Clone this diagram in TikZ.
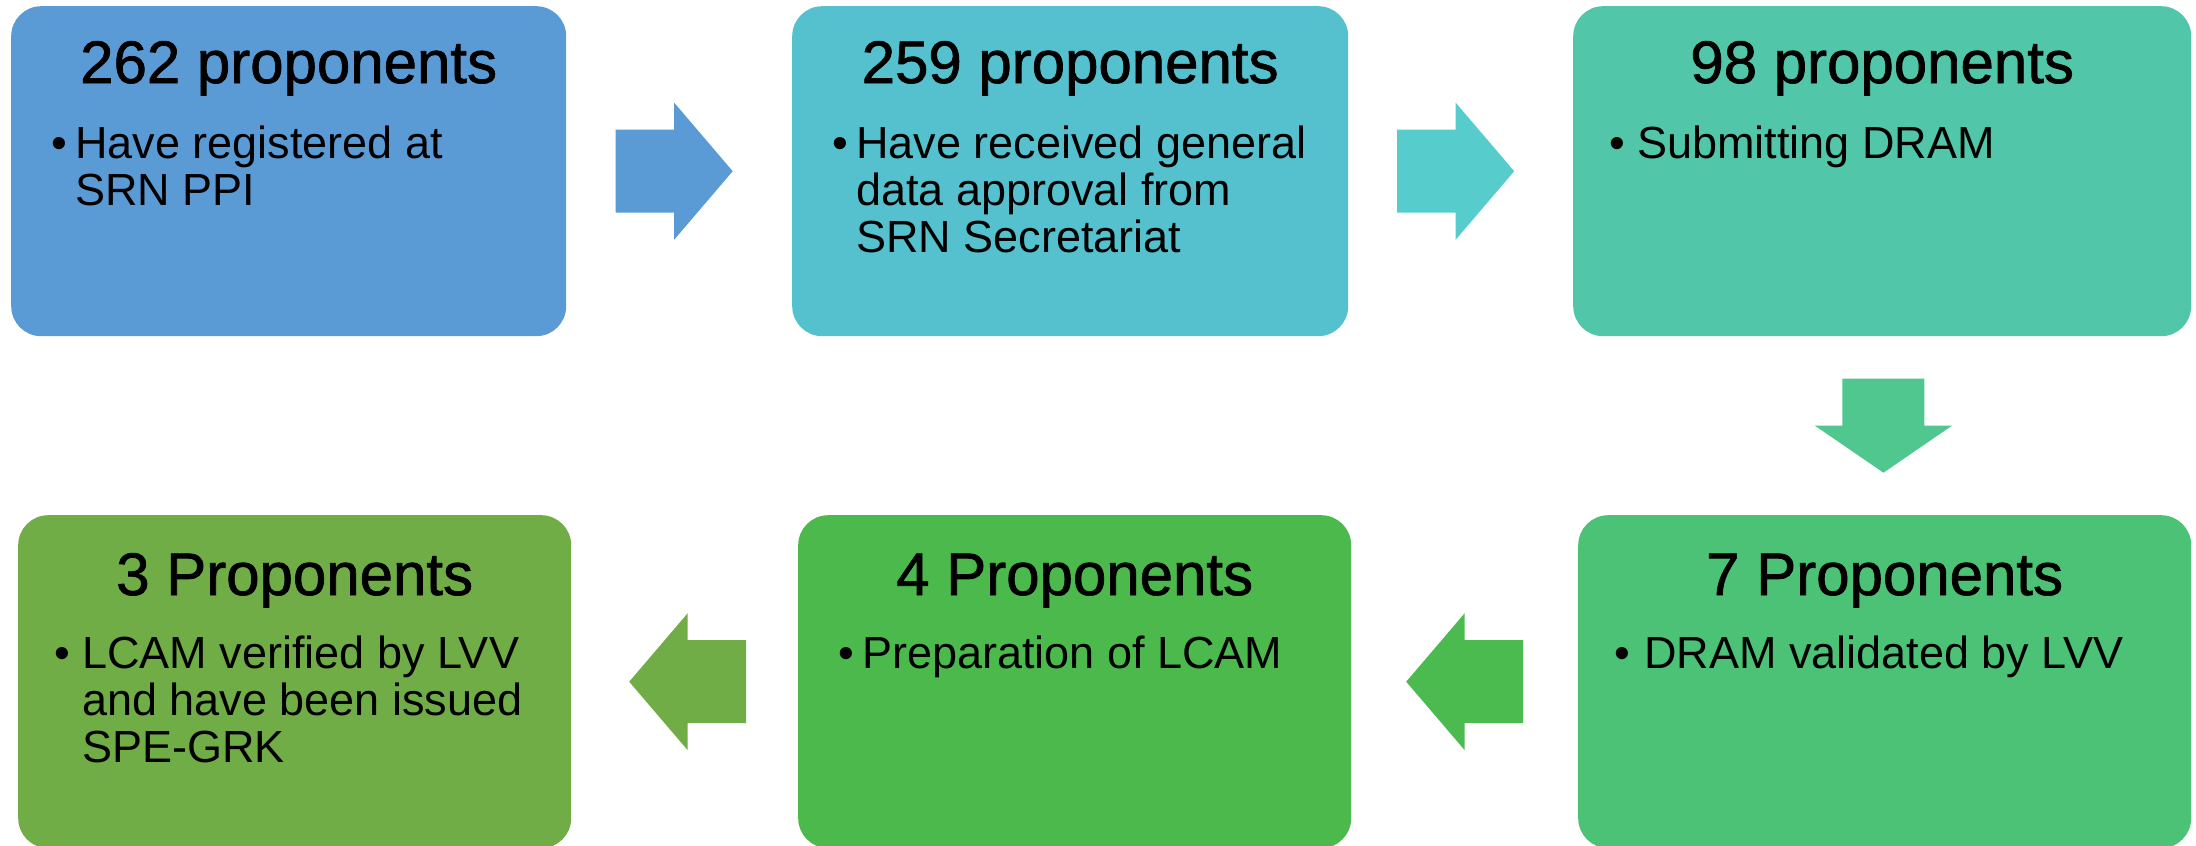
\documentclass[tikz,border=0pt]{standalone}
\usepackage{fontspec}
\setmainfont{Liberation Sans}
\newfontfamily\titlefont[FakeBold=1.2]{Liberation Sans}
\usetikzlibrary{calc}
\definecolor{cA}{HTML}{5B9BD5}
\definecolor{cB}{HTML}{55C1CE}
\definecolor{aB}{HTML}{56CDCC}
\definecolor{cC}{HTML}{51C6A8}
\definecolor{aC}{HTML}{4FC78E}
\definecolor{cD}{HTML}{4CC276}
\definecolor{aD}{HTML}{4BBB50}
\definecolor{cE}{HTML}{4BB94B}
\definecolor{cF}{HTML}{70AD47}
\newcommand{\bodylines}[1]{\begin{tabular}[t]{@{}l@{}}#1\end{tabular}}
\tikzset{
  box/.style={rectangle, rounded corners=30pt, inner sep=0pt, anchor=north west},
  ttl/.style={anchor=base, inner sep=0pt, font=\titlefont\fontsize{60}{66}\selectfont},
  bul/.style={anchor=base west, inner sep=0pt, font=\fontsize{45}{47}\selectfont},
  bodytxt/.style={anchor=base west, inner sep=0pt, font=\fontsize{45}{47}\selectfont},
  harr/.pic={\fill (-58.5,-41.5) -- (0,-41.5) -- (0,-68.5) -- (58.5,0) -- (0,68.5) -- (0,41.5) -- (-58.5,41.5) -- cycle;},
  varr/.pic={\fill (-41,-47) -- (41,-47) -- (41,0) -- (68.5,0) -- (0,47) -- (-68.5,0) -- (-41,0) -- cycle;}
}
\begin{document}
\begin{tikzpicture}[x=1pt,y=-1pt]
\useasboundingbox (0,0) rectangle (2196,846);
% boxes
\node[box, fill=cA, minimum width=555pt, minimum height=330pt] (b1) at (11,6) {};
\node[box, fill=cB, minimum width=556pt, minimum height=330pt] (b2) at (792,6) {};
\node[box, fill=cC, minimum width=618pt, minimum height=330pt] (b3) at (1573,6) {};
\node[box, fill=cD, minimum width=613pt, minimum height=333pt] (b4) at (1578,515) {};
\node[box, fill=cE, minimum width=553pt, minimum height=333pt] (b5) at (798,515) {};
\node[box, fill=cF, minimum width=553pt, minimum height=333pt] (b6) at (18,515) {};
% titles
\node[ttl] (t1) at ([yshift=-77pt]b1.north) {262 proponents};
\node[ttl] (t2) at ([yshift=-77pt]b2.north) {259 proponents};
\node[ttl] (t3) at ([yshift=-77pt]b3.north) {98 proponents};
\node[ttl] (t4) at ([yshift=-80pt]b4.north) {7 Proponents};
\node[ttl] (t5) at ([yshift=-80pt]b5.north) {4 Proponents};
\node[ttl] (t6) at ([yshift=-80pt]b6.north) {3 Proponents};
% bullets and body text
\node[bul] (p1) at ([xshift=40pt,yshift=-152pt]b1.north west) {\textbullet};
\node[bodytxt] (d1) at ([xshift=64pt,yshift=-152pt]b1.north west) {\bodylines{Have registered at\\SRN PPI}};
\node[bul] (p2) at ([xshift=40pt,yshift=-152pt]b2.north west) {\textbullet};
\node[bodytxt] (d2) at ([xshift=64pt,yshift=-152pt]b2.north west) {\bodylines{Have received general\\data approval from\\SRN Secretariat}};
\node[bul] (p3) at ([xshift=36pt,yshift=-152pt]b3.north west) {\textbullet};
\node[bodytxt] (d3) at ([xshift=64pt,yshift=-152pt]b3.north west) {\bodylines{Submitting DRAM}};
\node[bul] (p4) at ([xshift=36pt,yshift=-153pt]b4.north west) {\textbullet};
\node[bodytxt] (d4) at ([xshift=66pt,yshift=-153pt]b4.north west) {\bodylines{DRAM validated by LVV}};
\node[bul] (p5) at ([xshift=40pt,yshift=-153pt]b5.north west) {\textbullet};
\node[bodytxt] (d5) at ([xshift=64pt,yshift=-153pt]b5.north west) {\bodylines{Preparation of LCAM}};
\node[bul] (p6) at ([xshift=36pt,yshift=-153pt]b6.north west) {\textbullet};
\node[bodytxt] (d6) at ([xshift=64pt,yshift=-153pt]b6.north west) {\bodylines{LCAM verified by LVV\\and have been issued\\SPE-GRK}};
% block arrows between the boxes
\coordinate (c12) at ([xshift=-5pt]$(b1.east)!0.5!(b2.west)$);
\coordinate (c23) at ([xshift=-5pt]$(b2.east)!0.5!(b3.west)$);
\coordinate (c34) at ($(b3.south)!0.5!(b4.north)$);
\coordinate (c45) at ($(b5.east)!0.5!(b4.west)$);
\coordinate (c56) at ([xshift=3pt]$(b6.east)!0.5!(b5.west)$);
\pic[fill=cA] at (c12) {harr};
\pic[fill=aB] at (c23) {harr};
\pic[fill=aC] at (c34) {varr};
\pic[fill=aD, rotate=180] at (c45) {harr};
\pic[fill=cF, rotate=180] at (c56) {harr};
\end{tikzpicture}
\end{document}
